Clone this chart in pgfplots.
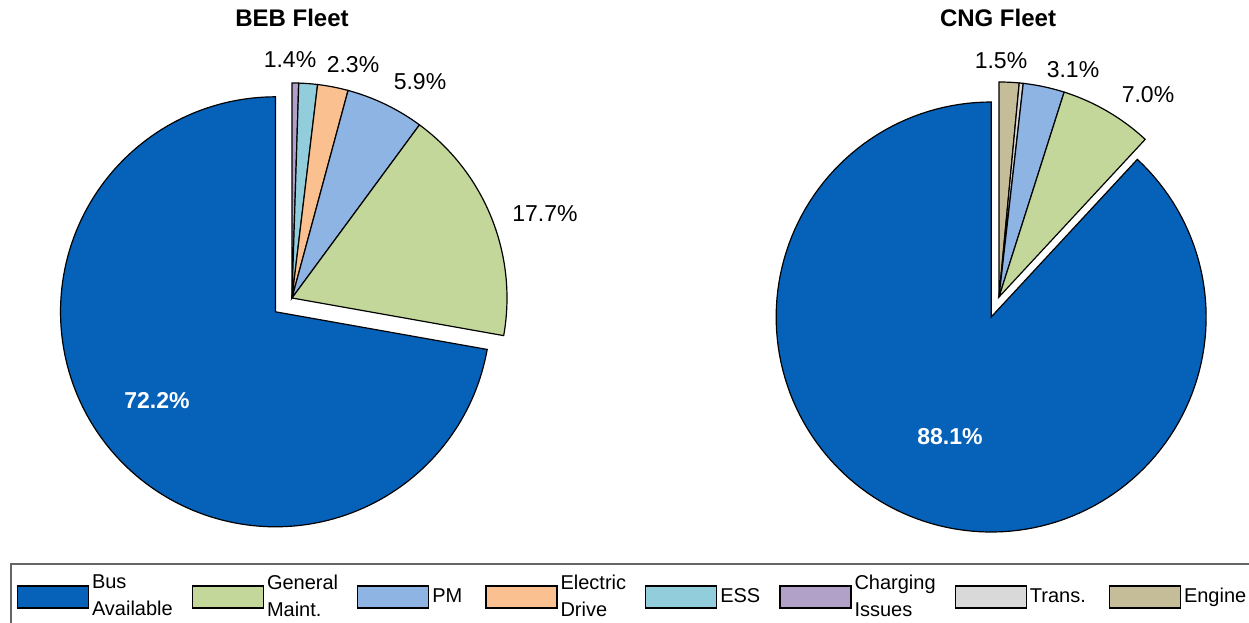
\documentclass[border=0pt]{standalone}
\usepackage{pgfplots}
\pgfplotsset{compat=1.18}
\usepackage{fontspec}
\setmainfont{Liberation Sans}

\definecolor{busav}{HTML}{0662B9}
\definecolor{genm}{HTML}{C4D79B}
\definecolor{pm}{HTML}{8DB4E2}
\definecolor{edrive}{HTML}{FAC090}
\definecolor{ess}{HTML}{92CDDC}
\definecolor{chg}{HTML}{B1A0C7}
\definecolor{trans}{HTML}{D9D9D9}
\definecolor{engine}{HTML}{C4BD97}

% wide legend box
\pgfplotsset{bigbox/.style={legend image code/.code={%
  \draw[##1, line width=0.6bp] (0bp,-5.5bp) rectangle (35.5bp,5.5bp);}}}

% one wedge: centre x, centre y, percent, colour, explode (0/1), radius
% slices run clockwise from 12 o'clock, \cum holds the running total
\gdef\cum{0}
\newcommand\slice[6]{%
  \pgfmathsetmacro\angA{90-3.6*(\cum+#3)}%
  \pgfmathsetmacro\angB{90-3.6*\cum}%
  \pgfmathsetmacro\angM{(\angA+\angB)/2}%
  \pgfmathsetmacro\ox{#1+#5*0.1*#6*cos(\angM)}%
  \pgfmathsetmacro\oy{#2+#5*0.1*#6*sin(\angM)}%
  \pgfmathsetmacro\cumnew{\cum+#3}%
  \xdef\cum{\cumnew}%
  \edef\doslice{\noexpand\addplot[forget plot, fill=#4, draw=black,
    line width=0.6bp, domain=\angA:\angB, samples=150]
    ({\ox+#6*cos(x)},{\oy+#6*sin(x)}) -- (axis cs:\ox,\oy) -- cycle;}%
  \doslice
}

\newcommand\lblfont{\fontsize{11.5bp}{13bp}\selectfont}

\begin{document}
\begin{tikzpicture}
\begin{axis}[
  name=ax,
  scale only axis,
  width=624.5bp, height=311.5bp,
  xmin=0, xmax=1249, ymin=-623, ymax=0,
  hide axis, clip=false,
  legend columns=8,
  legend cell align=left,
  legend style={
    at={(axis cs:10,-563)}, anchor=north west,
    draw=black!60, line width=0.8bp,
    font=\fontsize{10bp}{13.5bp}\selectfont,
    inner xsep=3bp, inner ysep=5bp,
    column sep=1bp,
    /tikz/every even column/.append style={column sep=9bp},
    nodes={inner sep=0.5bp},
    cells={align=left},
  },
]
% BEB fleet
\gdef\cum{0}
\slice{292}{-298}{0.5}{chg}{0}{215}
\slice{292}{-298}{1.4}{ess}{0}{215}
\slice{292}{-298}{2.3}{edrive}{0}{215}
\slice{292}{-298}{5.9}{pm}{0}{215}
\slice{292}{-298}{17.7}{genm}{0}{215}
\slice{292}{-298}{72.2}{busav}{1}{215}

% CNG fleet
\gdef\cum{0}
\slice{999}{-297}{1.5}{engine}{0}{215}
\slice{999}{-297}{0.3}{trans}{0}{215}
\slice{999}{-297}{3.1}{pm}{0}{215}
\slice{999}{-297}{7.0}{genm}{0}{215}
\slice{999}{-297}{88.1}{busav}{1}{215}

\addlegendimage{bigbox, fill=busav, draw=black}
\addlegendentry{Bus\\Available}
\addlegendimage{bigbox, fill=genm, draw=black}
\addlegendentry{General\\Maint.}
\addlegendimage{bigbox, fill=pm, draw=black}
\addlegendentry{PM\hspace{2bp}}
\addlegendimage{bigbox, fill=edrive, draw=black}
\addlegendentry{Electric\\Drive}
\addlegendimage{bigbox, fill=ess, draw=black}
\addlegendentry{ESS}
\addlegendimage{bigbox, fill=chg, draw=black}
\addlegendentry{Charging\\Issues}
\addlegendimage{bigbox, fill=trans, draw=black}
\addlegendentry{Trans.\hspace{2bp}}
\addlegendimage{bigbox, fill=engine, draw=black}
\addlegendentry{Engine}

\node[anchor=base, font=\bfseries\fontsize{12bp}{14bp}\selectfont] at (axis cs:292,-27) {BEB Fleet};
\node[anchor=base, font=\bfseries\fontsize{12bp}{14bp}\selectfont] at (axis cs:998,-27) {CNG Fleet};

\node[anchor=base, font=\lblfont] at (axis cs:290,-68) {1.4\%};
\node[anchor=base, font=\lblfont] at (axis cs:353,-73) {2.3\%};
\node[anchor=base, font=\lblfont] at (axis cs:420,-90) {5.9\%};
\node[anchor=base, font=\lblfont] at (axis cs:545,-222) {17.7\%};
\node[anchor=base, font=\lblfont\bfseries, text=white] at (axis cs:157,-409) {72.2\%};

\node[anchor=base, font=\lblfont] at (axis cs:1001,-69) {1.5\%};
\node[anchor=base, font=\lblfont] at (axis cs:1073,-78) {3.1\%};
\node[anchor=base, font=\lblfont] at (axis cs:1148,-103) {7.0\%};
\node[anchor=base, font=\lblfont\bfseries, text=white] at (axis cs:950,-445) {88.1\%};
\end{axis}
\pgfresetboundingbox
\path (ax.south west) rectangle (ax.north east);
\end{tikzpicture}
\end{document}
